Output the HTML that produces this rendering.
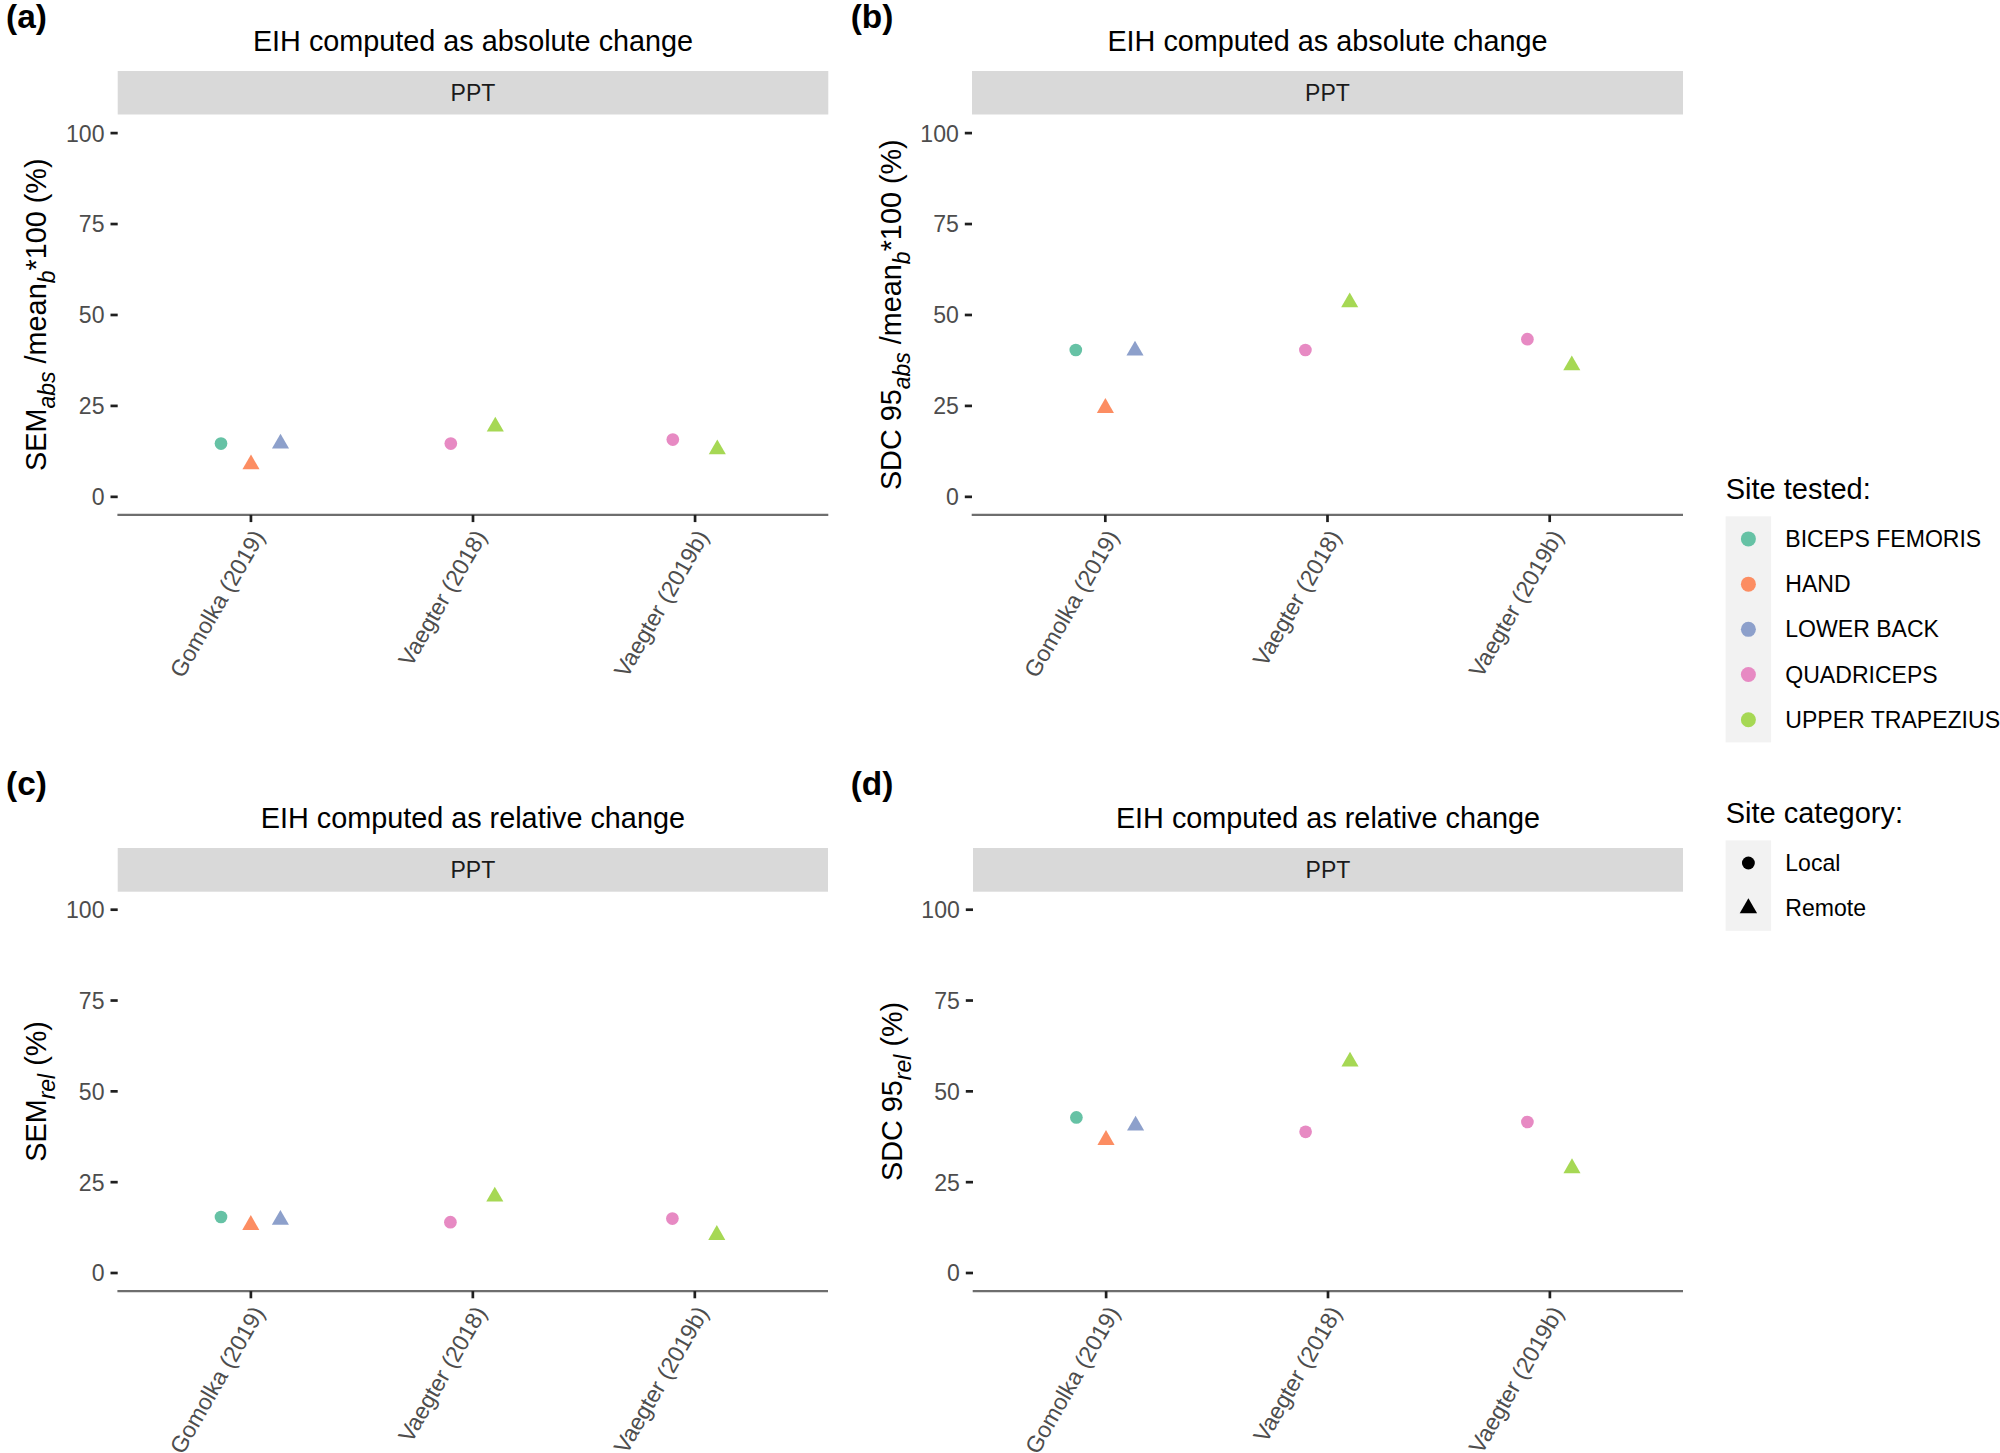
<!DOCTYPE html>
<html lang="en">
<head>
<meta charset="utf-8">
<title>Figure</title>
<style>
html,body{margin:0;padding:0;background:#fff;}
body{width:2000px;height:1453px;overflow:hidden;}
svg{display:block;}
svg text{font-family:"Liberation Sans",Arial,Helvetica,sans-serif;}
</style>
</head>
<body>
<svg width="2000" height="1453" viewBox="0 0 2000 1453">
<rect x="0" y="0" width="2000" height="1453" fill="#ffffff"/>
<g id="panel-a">
<text x="6.1" y="28.3" font-size="33.4" font-weight="bold" fill="#000">(a)</text>
<text x="473.00" y="50.60" font-size="28.8" text-anchor="middle" fill="#000">EIH computed as absolute change</text>
<rect x="117.7" y="71.00" width="710.60" height="43.50" fill="#d9d9d9"/>
<text x="473.00" y="101.00" font-size="23.05" text-anchor="middle" fill="#1a1a1a">PPT</text>
<line x1="117.4" x2="828.3" y1="514.90" y2="514.90" stroke="#6e6e6e" stroke-width="2.3"/>
<line x1="110.50" x2="117.70" y1="496.85" y2="496.85" stroke="#1f1f1f" stroke-width="2.7"/>
<text x="104.50" y="505.25" font-size="23.05" text-anchor="end" fill="#4d4d4d">0</text>
<line x1="110.50" x2="117.70" y1="405.91" y2="405.91" stroke="#1f1f1f" stroke-width="2.7"/>
<text x="104.50" y="414.31" font-size="23.05" text-anchor="end" fill="#4d4d4d">25</text>
<line x1="110.50" x2="117.70" y1="314.98" y2="314.98" stroke="#1f1f1f" stroke-width="2.7"/>
<text x="104.50" y="323.38" font-size="23.05" text-anchor="end" fill="#4d4d4d">50</text>
<line x1="110.50" x2="117.70" y1="224.04" y2="224.04" stroke="#1f1f1f" stroke-width="2.7"/>
<text x="104.50" y="232.44" font-size="23.05" text-anchor="end" fill="#4d4d4d">75</text>
<line x1="110.50" x2="117.70" y1="133.10" y2="133.10" stroke="#1f1f1f" stroke-width="2.7"/>
<text x="104.50" y="141.50" font-size="23.05" text-anchor="end" fill="#4d4d4d">100</text>
<line x1="250.94" x2="250.94" y1="514.90" y2="522.10" stroke="#1f1f1f" stroke-width="2.7"/>
<text transform="translate(250.94,527.90) rotate(-60)" x="0" y="16.6" font-size="23.05" text-anchor="end" fill="#4d4d4d">Gomolka (2019)</text>
<line x1="473.00" x2="473.00" y1="514.90" y2="522.10" stroke="#1f1f1f" stroke-width="2.7"/>
<text transform="translate(473.00,527.90) rotate(-60)" x="0" y="16.6" font-size="23.05" text-anchor="end" fill="#4d4d4d">Vaegter (2018)</text>
<line x1="695.06" x2="695.06" y1="514.90" y2="522.10" stroke="#1f1f1f" stroke-width="2.7"/>
<text transform="translate(695.06,527.90) rotate(-60)" x="0" y="16.6" font-size="23.05" text-anchor="end" fill="#4d4d4d">Vaegter (2019b)</text>
<text transform="translate(45.9,314.70) rotate(-90)" font-size="28.8" text-anchor="middle" fill="#000">SEM<tspan font-style="italic" font-size="23.0" dy="9.1">abs</tspan><tspan dy="-9.1"> /mean</tspan><tspan font-style="italic" font-size="23.0" dy="9.1">b</tspan><tspan dy="-9.1">*100 (%)</tspan></text>
<circle cx="221.00" cy="443.60" r="6.35" fill="#66C2A5"/>
<polygon points="251.00,454.52 259.55,469.34 242.45,469.34" fill="#FC8D62"/>
<polygon points="280.50,433.72 289.05,448.54 271.95,448.54" fill="#8DA0CB"/>
<circle cx="450.80" cy="443.60" r="6.35" fill="#E78AC3"/>
<polygon points="495.30,416.72 503.85,431.54 486.75,431.54" fill="#A6D854"/>
<circle cx="672.80" cy="439.60" r="6.35" fill="#E78AC3"/>
<polygon points="717.30,439.52 725.85,454.34 708.75,454.34" fill="#A6D854"/>
</g>
<g id="panel-b">
<text x="850.7" y="28.3" font-size="33.4" font-weight="bold" fill="#000">(b)</text>
<text x="1327.50" y="50.60" font-size="28.8" text-anchor="middle" fill="#000">EIH computed as absolute change</text>
<rect x="972.0" y="71.00" width="711.00" height="43.50" fill="#d9d9d9"/>
<text x="1327.50" y="101.00" font-size="23.05" text-anchor="middle" fill="#1a1a1a">PPT</text>
<line x1="971.7" x2="1683.0" y1="514.90" y2="514.90" stroke="#6e6e6e" stroke-width="2.3"/>
<line x1="964.80" x2="972.00" y1="496.85" y2="496.85" stroke="#1f1f1f" stroke-width="2.7"/>
<text x="958.80" y="505.25" font-size="23.05" text-anchor="end" fill="#4d4d4d">0</text>
<line x1="964.80" x2="972.00" y1="405.91" y2="405.91" stroke="#1f1f1f" stroke-width="2.7"/>
<text x="958.80" y="414.31" font-size="23.05" text-anchor="end" fill="#4d4d4d">25</text>
<line x1="964.80" x2="972.00" y1="314.98" y2="314.98" stroke="#1f1f1f" stroke-width="2.7"/>
<text x="958.80" y="323.38" font-size="23.05" text-anchor="end" fill="#4d4d4d">50</text>
<line x1="964.80" x2="972.00" y1="224.04" y2="224.04" stroke="#1f1f1f" stroke-width="2.7"/>
<text x="958.80" y="232.44" font-size="23.05" text-anchor="end" fill="#4d4d4d">75</text>
<line x1="964.80" x2="972.00" y1="133.10" y2="133.10" stroke="#1f1f1f" stroke-width="2.7"/>
<text x="958.80" y="141.50" font-size="23.05" text-anchor="end" fill="#4d4d4d">100</text>
<line x1="1105.31" x2="1105.31" y1="514.90" y2="522.10" stroke="#1f1f1f" stroke-width="2.7"/>
<text transform="translate(1105.31,527.90) rotate(-60)" x="0" y="16.6" font-size="23.05" text-anchor="end" fill="#4d4d4d">Gomolka (2019)</text>
<line x1="1327.50" x2="1327.50" y1="514.90" y2="522.10" stroke="#1f1f1f" stroke-width="2.7"/>
<text transform="translate(1327.50,527.90) rotate(-60)" x="0" y="16.6" font-size="23.05" text-anchor="end" fill="#4d4d4d">Vaegter (2018)</text>
<line x1="1549.69" x2="1549.69" y1="514.90" y2="522.10" stroke="#1f1f1f" stroke-width="2.7"/>
<text transform="translate(1549.69,527.90) rotate(-60)" x="0" y="16.6" font-size="23.05" text-anchor="end" fill="#4d4d4d">Vaegter (2019b)</text>
<text transform="translate(900.7,314.70) rotate(-90)" font-size="28.8" text-anchor="middle" fill="#000">SDC 95<tspan font-style="italic" font-size="23.0" dy="9.1">abs</tspan><tspan dy="-9.1"> /mean</tspan><tspan font-style="italic" font-size="23.0" dy="9.1">b</tspan><tspan dy="-9.1">*100 (%)</tspan></text>
<circle cx="1075.80" cy="350.00" r="6.35" fill="#66C2A5"/>
<polygon points="1105.40,398.12 1113.95,412.94 1096.85,412.94" fill="#FC8D62"/>
<polygon points="1135.00,340.72 1143.55,355.54 1126.45,355.54" fill="#8DA0CB"/>
<circle cx="1305.40" cy="350.00" r="6.35" fill="#E78AC3"/>
<polygon points="1349.70,292.52 1358.25,307.34 1341.15,307.34" fill="#A6D854"/>
<circle cx="1527.40" cy="339.20" r="6.35" fill="#E78AC3"/>
<polygon points="1571.80,355.52 1580.35,370.34 1563.25,370.34" fill="#A6D854"/>
</g>
<g id="panel-c">
<text x="6.1" y="795.3" font-size="33.4" font-weight="bold" fill="#000">(c)</text>
<text x="472.85" y="827.50" font-size="28.8" text-anchor="middle" fill="#000">EIH computed as relative change</text>
<rect x="117.7" y="848.00" width="710.30" height="43.70" fill="#d9d9d9"/>
<text x="472.85" y="877.90" font-size="23.05" text-anchor="middle" fill="#1a1a1a">PPT</text>
<line x1="117.4" x2="828.0" y1="1291.10" y2="1291.10" stroke="#6e6e6e" stroke-width="2.3"/>
<line x1="110.50" x2="117.70" y1="1273.00" y2="1273.00" stroke="#1f1f1f" stroke-width="2.7"/>
<text x="104.50" y="1281.40" font-size="23.05" text-anchor="end" fill="#4d4d4d">0</text>
<line x1="110.50" x2="117.70" y1="1182.17" y2="1182.17" stroke="#1f1f1f" stroke-width="2.7"/>
<text x="104.50" y="1190.58" font-size="23.05" text-anchor="end" fill="#4d4d4d">25</text>
<line x1="110.50" x2="117.70" y1="1091.35" y2="1091.35" stroke="#1f1f1f" stroke-width="2.7"/>
<text x="104.50" y="1099.75" font-size="23.05" text-anchor="end" fill="#4d4d4d">50</text>
<line x1="110.50" x2="117.70" y1="1000.53" y2="1000.53" stroke="#1f1f1f" stroke-width="2.7"/>
<text x="104.50" y="1008.93" font-size="23.05" text-anchor="end" fill="#4d4d4d">75</text>
<line x1="110.50" x2="117.70" y1="909.70" y2="909.70" stroke="#1f1f1f" stroke-width="2.7"/>
<text x="104.50" y="918.10" font-size="23.05" text-anchor="end" fill="#4d4d4d">100</text>
<line x1="250.88" x2="250.88" y1="1291.10" y2="1298.30" stroke="#1f1f1f" stroke-width="2.7"/>
<text transform="translate(250.88,1304.10) rotate(-60)" x="0" y="16.6" font-size="23.05" text-anchor="end" fill="#4d4d4d">Gomolka (2019)</text>
<line x1="472.85" x2="472.85" y1="1291.10" y2="1298.30" stroke="#1f1f1f" stroke-width="2.7"/>
<text transform="translate(472.85,1304.10) rotate(-60)" x="0" y="16.6" font-size="23.05" text-anchor="end" fill="#4d4d4d">Vaegter (2018)</text>
<line x1="694.82" x2="694.82" y1="1291.10" y2="1298.30" stroke="#1f1f1f" stroke-width="2.7"/>
<text transform="translate(694.82,1304.10) rotate(-60)" x="0" y="16.6" font-size="23.05" text-anchor="end" fill="#4d4d4d">Vaegter (2019b)</text>
<text transform="translate(45.9,1091.40) rotate(-90)" font-size="28.8" text-anchor="middle" fill="#000">SEM<tspan font-style="italic" font-size="23.0" dy="9.1">rel</tspan><tspan dy="-9.1"> (%)</tspan></text>
<circle cx="221.00" cy="1217.00" r="6.35" fill="#66C2A5"/>
<polygon points="250.80,1215.12 259.35,1229.94 242.25,1229.94" fill="#FC8D62"/>
<polygon points="280.40,1209.92 288.95,1224.74 271.85,1224.74" fill="#8DA0CB"/>
<circle cx="450.40" cy="1222.20" r="6.35" fill="#E78AC3"/>
<polygon points="494.80,1186.72 503.35,1201.54 486.25,1201.54" fill="#A6D854"/>
<circle cx="672.40" cy="1218.60" r="6.35" fill="#E78AC3"/>
<polygon points="716.80,1225.12 725.35,1239.94 708.25,1239.94" fill="#A6D854"/>
</g>
<g id="panel-d">
<text x="850.7" y="795.3" font-size="33.4" font-weight="bold" fill="#000">(d)</text>
<text x="1328.00" y="827.50" font-size="28.8" text-anchor="middle" fill="#000">EIH computed as relative change</text>
<rect x="973.0" y="848.00" width="710.00" height="43.70" fill="#d9d9d9"/>
<text x="1328.00" y="877.90" font-size="23.05" text-anchor="middle" fill="#1a1a1a">PPT</text>
<line x1="972.7" x2="1683.0" y1="1291.10" y2="1291.10" stroke="#6e6e6e" stroke-width="2.3"/>
<line x1="965.80" x2="973.00" y1="1273.00" y2="1273.00" stroke="#1f1f1f" stroke-width="2.7"/>
<text x="959.80" y="1281.40" font-size="23.05" text-anchor="end" fill="#4d4d4d">0</text>
<line x1="965.80" x2="973.00" y1="1182.17" y2="1182.17" stroke="#1f1f1f" stroke-width="2.7"/>
<text x="959.80" y="1190.58" font-size="23.05" text-anchor="end" fill="#4d4d4d">25</text>
<line x1="965.80" x2="973.00" y1="1091.35" y2="1091.35" stroke="#1f1f1f" stroke-width="2.7"/>
<text x="959.80" y="1099.75" font-size="23.05" text-anchor="end" fill="#4d4d4d">50</text>
<line x1="965.80" x2="973.00" y1="1000.53" y2="1000.53" stroke="#1f1f1f" stroke-width="2.7"/>
<text x="959.80" y="1008.93" font-size="23.05" text-anchor="end" fill="#4d4d4d">75</text>
<line x1="965.80" x2="973.00" y1="909.70" y2="909.70" stroke="#1f1f1f" stroke-width="2.7"/>
<text x="959.80" y="918.10" font-size="23.05" text-anchor="end" fill="#4d4d4d">100</text>
<line x1="1106.12" x2="1106.12" y1="1291.10" y2="1298.30" stroke="#1f1f1f" stroke-width="2.7"/>
<text transform="translate(1106.12,1304.10) rotate(-60)" x="0" y="16.6" font-size="23.05" text-anchor="end" fill="#4d4d4d">Gomolka (2019)</text>
<line x1="1328.00" x2="1328.00" y1="1291.10" y2="1298.30" stroke="#1f1f1f" stroke-width="2.7"/>
<text transform="translate(1328.00,1304.10) rotate(-60)" x="0" y="16.6" font-size="23.05" text-anchor="end" fill="#4d4d4d">Vaegter (2018)</text>
<line x1="1549.88" x2="1549.88" y1="1291.10" y2="1298.30" stroke="#1f1f1f" stroke-width="2.7"/>
<text transform="translate(1549.88,1304.10) rotate(-60)" x="0" y="16.6" font-size="23.05" text-anchor="end" fill="#4d4d4d">Vaegter (2019b)</text>
<text transform="translate(901.6,1091.40) rotate(-90)" font-size="28.8" text-anchor="middle" fill="#000">SDC 95<tspan font-style="italic" font-size="23.0" dy="9.1">rel</tspan><tspan dy="-9.1"> (%)</tspan></text>
<circle cx="1076.40" cy="1117.40" r="6.35" fill="#66C2A5"/>
<polygon points="1106.00,1130.12 1114.55,1144.94 1097.45,1144.94" fill="#FC8D62"/>
<polygon points="1135.60,1115.72 1144.15,1130.54 1127.05,1130.54" fill="#8DA0CB"/>
<circle cx="1305.60" cy="1131.80" r="6.35" fill="#E78AC3"/>
<polygon points="1350.00,1051.72 1358.55,1066.54 1341.45,1066.54" fill="#A6D854"/>
<circle cx="1527.40" cy="1122.00" r="6.35" fill="#E78AC3"/>
<polygon points="1572.00,1158.32 1580.55,1173.14 1563.45,1173.14" fill="#A6D854"/>
</g>
<g id="legend">
<text x="1725.7" y="499.2" font-size="29.0" fill="#000">Site tested:</text>
<rect x="1725.6" y="516.3" width="45.5" height="226.1" fill="#f2f2f2"/>
<circle cx="1748.40" cy="538.91" r="7.50" fill="#66C2A5"/>
<text x="1785.3" y="547.01" font-size="23.05" fill="#000">BICEPS FEMORIS</text>
<circle cx="1748.40" cy="584.13" r="7.50" fill="#FC8D62"/>
<text x="1785.3" y="592.23" font-size="23.05" fill="#000">HAND</text>
<circle cx="1748.40" cy="629.35" r="7.50" fill="#8DA0CB"/>
<text x="1785.3" y="637.45" font-size="23.05" fill="#000">LOWER BACK</text>
<circle cx="1748.40" cy="674.57" r="7.50" fill="#E78AC3"/>
<text x="1785.3" y="682.67" font-size="23.05" fill="#000">QUADRICEPS</text>
<circle cx="1748.40" cy="719.79" r="7.50" fill="#A6D854"/>
<text x="1785.3" y="727.89" font-size="23.05" fill="#000">UPPER TRAPEZIUS</text>
<text x="1725.7" y="822.6" font-size="29.0" fill="#000">Site category:</text>
<rect x="1725.6" y="840.4" width="45.5" height="90.4" fill="#f2f2f2"/>
<circle cx="1748.40" cy="863.00" r="6.45" fill="#000"/>
<polygon points="1748.40,898.17 1757.09,913.22 1739.71,913.22" fill="#000"/>
<text x="1785.3" y="871.1" font-size="23.05" fill="#000">Local</text>
<text x="1785.3" y="916.3" font-size="23.05" fill="#000">Remote</text>
</g>
</svg>
</body>
</html>
